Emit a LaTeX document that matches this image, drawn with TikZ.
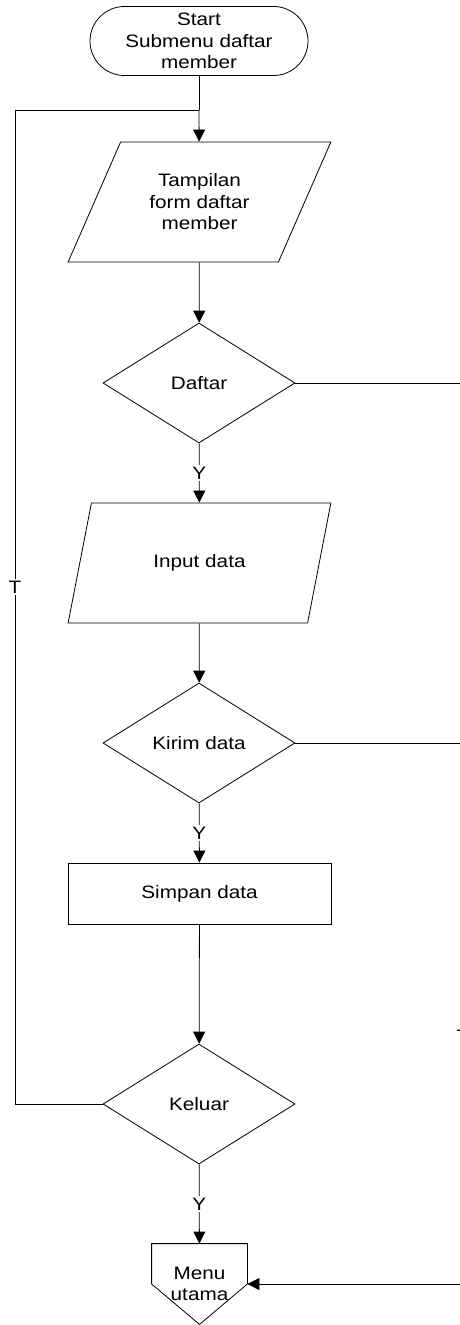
\documentclass[tikz,border=0pt]{standalone}
\usepackage{fontspec}
\setmainfont{Liberation Sans}[FakeStretch=1.15]
\usepackage{tikz}
\usetikzlibrary{shapes.geometric,shapes.misc,arrows.meta}

\begin{document}
\begin{tikzpicture}[x=1pt, y=-1pt,
	font=\fontsize{18}{21.5}\selectfont,
	every path/.style={line width=0.8pt},
	flow/.style={-{Triangle[width=12pt,length=12pt]}},
	terminal/.style={rounded rectangle, draw=black, minimum width=218pt, minimum height=69pt, inner sep=0pt, align=center},
	iobox/.style={trapezium, trapezium left angle=59.4, trapezium right angle=120.6, trapezium stretches, draw=black, minimum width=263pt, minimum height=120pt, inner sep=0pt, align=center},
	decision/.style={diamond, aspect=1.6, draw=black, minimum width=192pt, minimum height=120pt, inner sep=0pt},
	process/.style={rectangle, draw=black, minimum width=263pt, minimum height=61pt, inner sep=0pt},
	offpage/.style={rectangle, minimum width=95pt, minimum height=80pt, inner sep=0pt, align=center},
	answer/.style={fill=white, inner sep=1.5pt}]

	\useasboundingbox (0,0) rectangle (459,1325);

	\node[terminal] (start)    at (199, 41)    {Start\\Submenu daftar\\member};
	\node[iobox]    (tampilan) at (199.5, 202) {Tampilan\\form daftar\\member};
	\node[decision] (daftar)   at (199, 383)   {Daftar};
	\node[iobox]    (input)    at (199.5, 563) {Input data};
	\node[decision] (kirim)    at (199, 743)   {Kirim data};
	\node[process]  (simpan)   at (199.5, 893.5) {Simpan data};
	\node[decision] (keluar)   at (199, 1104)  {Keluar};
	\node[offpage]  (menu)     at (199.5, 1284) {Menu\\utama};
	\draw (menu.north west) -- (menu.north east) -- (menu.east) -- (menu.south) -- (menu.west) -- cycle;

	\coordinate (jn)  at (199, 110);
	\coordinate (lc)  at (15, 110);
	\coordinate (dr)  at (470, 383);
	\coordinate (kr)  at (470, 743);
	\coordinate (mr)  at (470, 1284);

	\draw (start) -- (jn);
	\draw[flow] (jn) -- (tampilan);
	\draw[flow] (tampilan) -- (daftar);
	\draw[flow] (daftar) -- node[answer] {Y} (input);
	\draw[flow] (input) -- (kirim);
	\draw[flow] (kirim) -- node[answer] {Y} (simpan);
	\draw[flow] (simpan) -- (keluar);
	\draw[flow] (keluar) -- node[answer] {Y} (menu);
	\draw (keluar.west) -| node[answer, pos=0.76] {T} (lc) -- (jn);
	\draw (daftar.east) -- (dr);
	\draw (kirim.east) -- (kr);
	\draw[flow] (mr) -- (menu.east);
	\node[answer, fill=none] (tkanan) at (463, 1036) {T};

\end{tikzpicture}
\end{document}
